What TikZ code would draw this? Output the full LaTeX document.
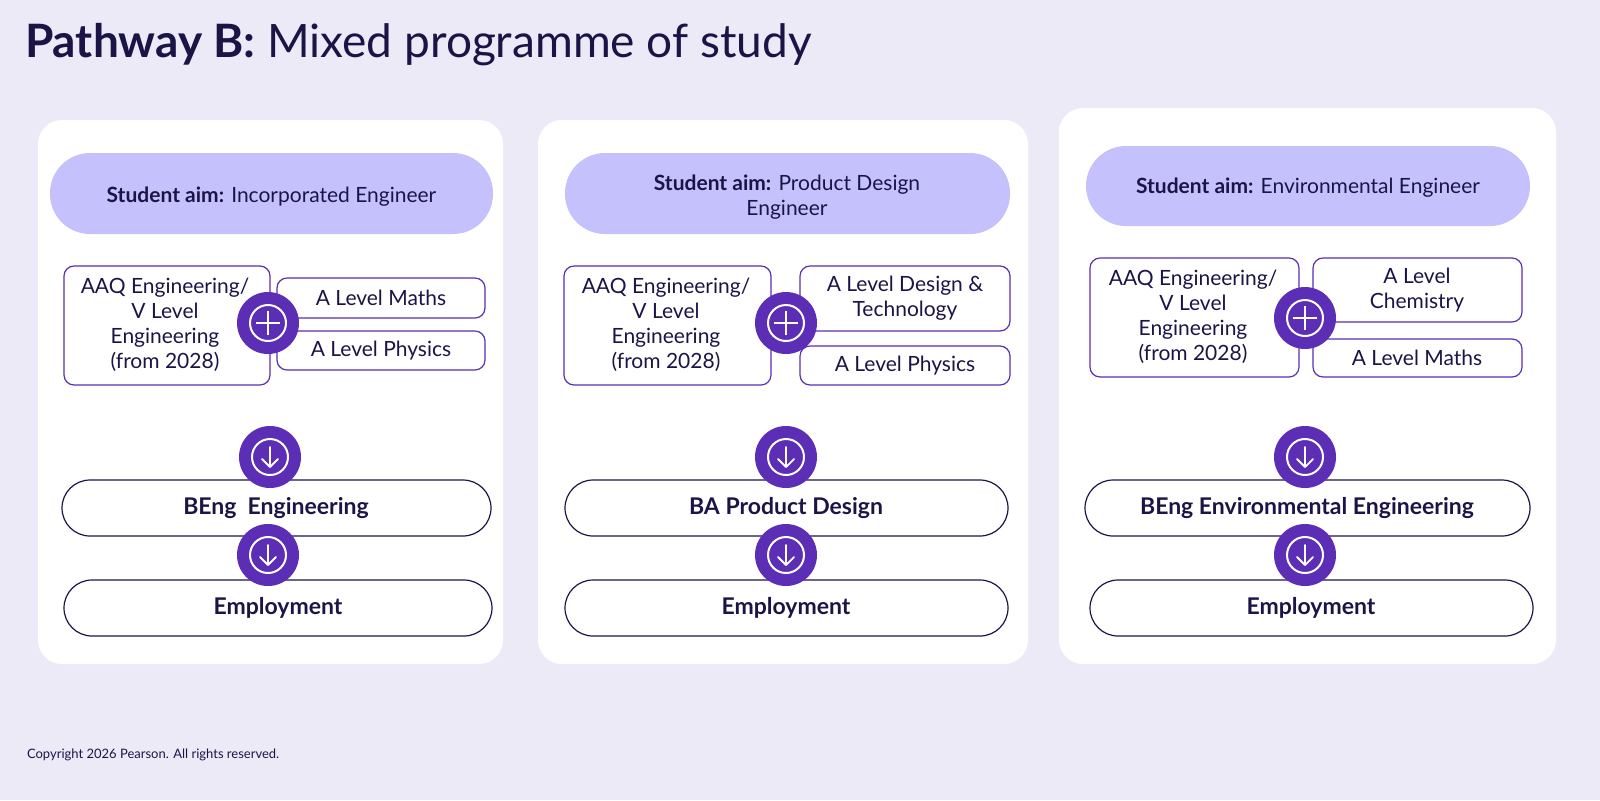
\documentclass[tikz,border=0pt]{standalone}
\usepackage{fontspec}
\setmainfont{Lato}
\definecolor{bg}{HTML}{ECEAF6}
\definecolor{navy}{HTML}{1B1547}
\definecolor{pur}{HTML}{5B2EB5}
\definecolor{lav}{HTML}{C5C1FC}
\newcommand\plusic[2]{\node[circ] (#1) at (#2) {};
 \draw[white,line width=1pt] (#1) circle (9pt);
 \draw[white,line width=0.9pt] ([xshift=-6pt]#1.center) -- ([xshift=6pt]#1.center) ([yshift=-6pt]#1.center) -- ([yshift=6pt]#1.center);}
\newcommand\arric[2]{\node[circ] (#1) at (#2) {};
 \draw[white,line width=1pt] (#1) circle (9pt);
 \draw[white,line width=0.9pt,line cap=round,line join=round] ([yshift=5pt]#1.center) -- ([yshift=-5pt]#1.center) ([xshift=-4pt,yshift=-1pt]#1.center) -- ([yshift=-5pt]#1.center) -- ([xshift=4pt,yshift=-1pt]#1.center);}
\begin{document}
\begin{tikzpicture}[x=0.5pt,y=-0.5pt,
 panel/.style={fill=white,rounded corners=12pt,draw=none},
 aim/.style={fill=lav,rounded corners=20pt,draw=none},
 box/.style={draw=pur,line width=0.6pt,fill=white,rounded corners=5pt},
 pill/.style={draw=navy,line width=0.6pt,fill=white,rounded corners=14pt},
 txt/.style={text=navy,font=\fontsize{10.5}{12.5}\selectfont,align=center},
 big/.style={text=navy,font=\fontsize{11.5}{13}\selectfont\bfseries,align=center},
 circ/.style={circle,fill=pur,minimum size=31pt,inner sep=0pt}]
\fill[bg] (0,0) rectangle (1600,800);
\node[anchor=west,text=navy,font=\fontsize{23}{26}\selectfont] (title) at (18,45) {\textbf{Pathway B:} Mixed programme of study};
\node[anchor=west,text=navy,font=\fontsize{6.5}{8}\selectfont] (copy) at (20,755) {Copyright 2026 Pearson. All rights reserved.};
% panel 1
\draw[panel] (38,120) rectangle (503,664);
\draw[aim] (50,153) rectangle (493,234);
\node[txt] (a1) at (271.5,197) {\textbf{Student aim:} Incorporated Engineer};
\draw[box] (64,266) rectangle (270,385);
\node[txt] (l1) at (165,325) {AAQ Engineering/\\V Level\\Engineering\\(from 2028)};
\draw[box] (277,278) rectangle (485,318);
\node[txt] (r1a) at (381,298) {A Level Maths};
\draw[box] (277,331) rectangle (485,370);
\node[txt] (r1b) at (381,351) {A Level Physics};
\plusic{p1}{268,323}
\draw[pill] (62,480) rectangle (491,536);
\node[big] (b1) at (276,508) {BEng\ \ Engineering};
\draw[pill] (64,580) rectangle (492,636);
\node[big] (e1) at (278,608) {Employment};
\arric{d1}{270,457}
\arric{f1}{268,555}
% panel 2
\draw[panel] (538,120) rectangle (1028,664);
\draw[aim] (565,153) rectangle (1010,234);
\node[txt] (a2) at (787,197) {\textbf{Student aim:} Product Design\\Engineer};
\draw[box] (564,266) rectangle (771,385);
\node[txt] (l2) at (666,325) {AAQ Engineering/\\V Level\\Engineering\\(from 2028)};
\draw[box] (800,266) rectangle (1010,331);
\node[txt] (r2a) at (905,298) {A Level Design \&\\Technology};
\draw[box] (800,346) rectangle (1010,385);
\node[txt] (r2b) at (905,366) {A Level Physics};
\plusic{p2}{786,323}
\draw[pill] (565,480) rectangle (1008,536);
\node[big] (b2) at (786,508) {BA Product Design};
\draw[pill] (565,580) rectangle (1008,636);
\node[big] (e2) at (786,608) {Employment};
\arric{d2}{786,457}
\arric{f2}{786,555}
% panel 3
\draw[panel] (1059,108) rectangle (1556,664);
\draw[aim] (1086,146) rectangle (1530,226);
\node[txt] (a3) at (1308,188) {\textbf{Student aim:} Environmental Engineer};
\draw[box] (1090,258) rectangle (1299,377);
\node[txt] (l3) at (1193,317) {AAQ Engineering/\\V Level\\Engineering\\(from 2028)};
\draw[box] (1313,258) rectangle (1522,322);
\node[txt] (r3a) at (1417,290) {A Level\\Chemistry};
\draw[box] (1313,339) rectangle (1522,377);
\node[txt] (r3b) at (1417,358) {A Level Maths};
\plusic{p3}{1305,318}
\draw[pill] (1085,480) rectangle (1530,536);
\node[big] (b3) at (1307,508) {BEng Environmental Engineering};
\draw[pill] (1090,580) rectangle (1533,636);
\node[big] (e3) at (1311,608) {Employment};
\arric{d3}{1305,457}
\arric{f3}{1305,555}
\pgfresetboundingbox
\path[use as bounding box] (0,0) rectangle (1600,800);
\end{tikzpicture}
\end{document}
